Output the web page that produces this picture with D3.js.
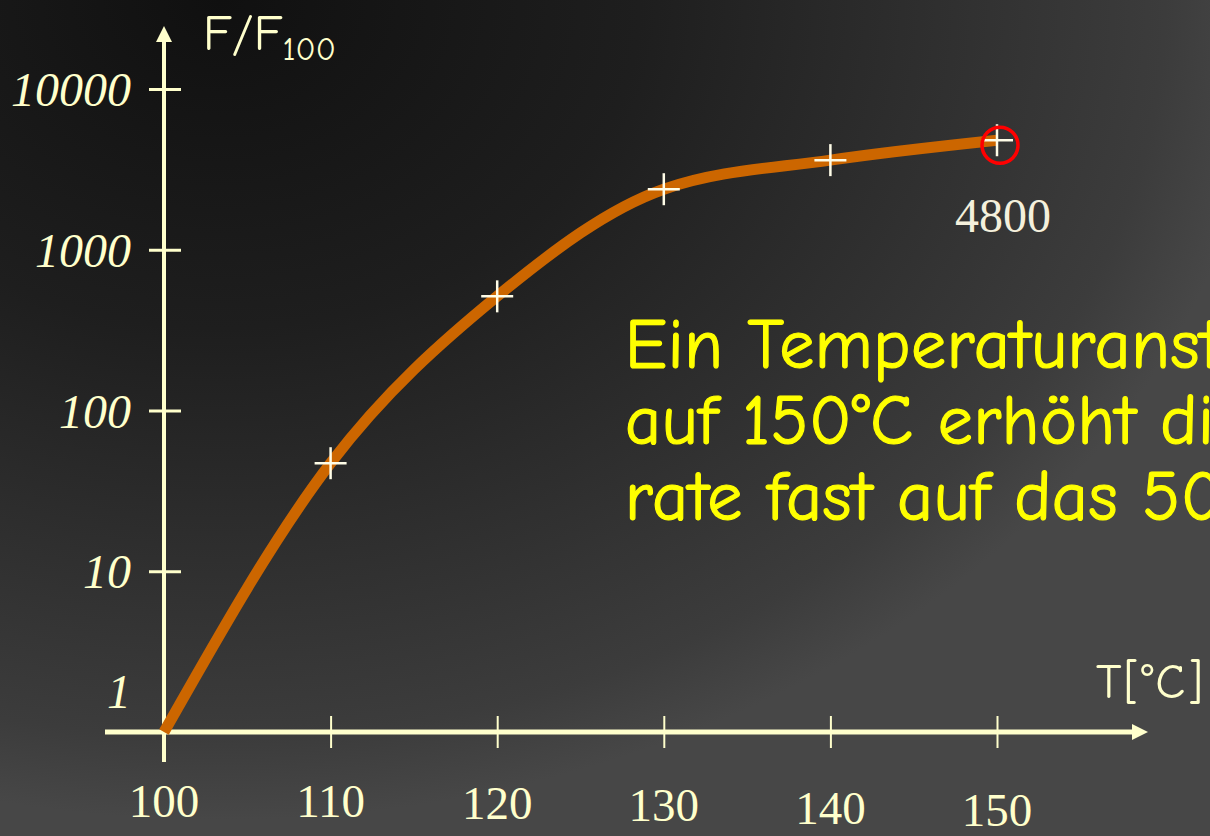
<!DOCTYPE html>
<html>
<head>
<meta charset="utf-8">
<script src="https://cdn.jsdelivr.net/npm/d3@7"></script>
<style>
  html, body { margin: 0; padding: 0; overflow: hidden; background: #2a2a2a; }
</style>
</head>
<body>
<svg id="chart"></svg>
<script>
// data
var temps = [100, 110, 120, 130, 140, 150];
var ratios = [1, 47, 513, 2380, 3610, 4800];
var yTickValues = [1, 10, 100, 1000, 10000];
var yTickLabels = ["1", "10", "100", "1000", "10000"];
var xTickLabels = ["100", "110", "120", "130", "140", "150"];
var markedTemp = [150];
var markedValue = [4800];
var noteLines = [
    "Ein Temperaturanstieg von 100°C",
    "auf 150°C erhöht die Reaktions-",
    "rate fast auf das 5000-fache"
];

var width = 1210, height = 836;
var cream = "#ffffcc";
var handFont = "'Comic Sans MS', 'Comic Neue', Lato, 'DejaVu Sans', sans-serif";
var serifFont = "'Times New Roman', 'Liberation Serif', 'DejaVu Serif', serif";

var svg = d3.select("#chart")
    .attr("width", width)
    .attr("height", height);

// background gradient (dark top-left, lighter towards bottom / right)
var defs = svg.append("defs");
var grad = defs.append("radialGradient")
    .attr("id", "bg")
    .attr("gradientUnits", "userSpaceOnUse")
    .attr("cx", 220).attr("cy", 0).attr("r", 1000)
    .attr("fx", 220).attr("fy", 0)
    .attr("gradientTransform", "translate(220,0) scale(1.05,0.82) translate(-220,0)");
grad.append("stop").attr("offset", 0).attr("stop-color", "#101010");
grad.append("stop").attr("offset", 0.4).attr("stop-color", "#1e1e1e");
grad.append("stop").attr("offset", 0.9).attr("stop-color", "#3c3c3c");
grad.append("stop").attr("offset", 1).attr("stop-color", "#474747");

svg.append("rect")
    .attr("width", width)
    .attr("height", height)
    .attr("fill", "url(#bg)");

var x = d3.scaleLinear().domain([100, 150]).range([164, 997]);
var y = d3.scaleLog().domain([1, 10000]).range([732, 89]);

var x0 = x(100), y0 = y(1);

// axis lines with arrow heads
svg.append("line")
    .attr("x1", x0).attr("x2", x0)
    .attr("y1", y0 + 30).attr("y2", 40)
    .attr("stroke", cream).attr("stroke-width", 4);
svg.append("path")
    .attr("d", "M" + x0 + ",26 L" + (x0 + 8) + ",42 L" + (x0 - 8) + ",42 Z")
    .attr("fill", cream);

svg.append("line")
    .attr("x1", 105).attr("x2", 1134)
    .attr("y1", y0).attr("y2", y0)
    .attr("stroke", cream).attr("stroke-width", 5);
svg.append("path")
    .attr("d", "M1148," + y0 + " L1132," + (y0 - 8) + " L1132," + (y0 + 8) + " Z")
    .attr("fill", cream);

// y ticks (crossing the axis)
var yAxis = d3.axisLeft(y)
    .tickValues(yTickValues.slice(1))
    .tickSizeInner(15)
    .tickSizeOuter(0)
    .tickFormat("");
var gy = svg.append("g")
    .attr("transform", "translate(" + x0 + ",0)")
    .call(yAxis);
gy.select(".domain").remove();
gy.selectAll(".tick line")
    .attr("x1", 17)
    .attr("stroke", cream)
    .attr("stroke-width", 3);

svg.append("g").selectAll("text")
    .data(yTickValues)
    .join("text")
    .attr("x", x0 - 33)
    .attr("y", function (d) { return d === 1 ? y(d) - 24 : y(d) + 17; })
    .attr("text-anchor", "end")
    .attr("font-family", serifFont)
    .attr("font-style", "italic")
    .attr("font-size", 48)
    .attr("fill", cream)
    .text(function (d, i) { return yTickLabels[i]; });

// x ticks
var xAxis = d3.axisBottom(x)
    .tickValues(temps.slice(1))
    .tickSizeInner(16)
    .tickSizeOuter(0)
    .tickFormat("");
var gx = svg.append("g")
    .attr("transform", "translate(0," + y0 + ")")
    .call(xAxis);
gx.select(".domain").remove();
gx.selectAll(".tick line")
    .attr("y1", -16)
    .attr("stroke", cream)
    .attr("stroke-width", 2);

svg.append("g").selectAll("text")
    .data(temps)
    .join("text")
    .attr("x", function (d) { return x(d); })
    .attr("y", function (d) { return 817 + Math.max(0, (d - 110) / 10) * 2.2; })
    .attr("text-anchor", "middle")
    .attr("font-family", serifFont)
    .attr("font-size", 47)
    .attr("fill", cream)
    .text(function (d, i) { return xTickLabels[i]; });

// axis titles
var yTitle = svg.append("text")
    .attr("x", 203).attr("y", 50)
    .attr("font-family", handFont)
    .attr("font-size", 50)
    .attr("fill", cream);
yTitle.append("tspan").text("F/F");
yTitle.append("tspan").attr("dy", 10).attr("font-size", 33).text("100");

svg.append("text")
    .attr("x", 1096).attr("y", 698)
    .attr("font-family", handFont)
    .attr("font-size", 49)
    .attr("letter-spacing", 2)
    .attr("fill", cream)
    .text("T[°C]");

// curve
var pts = temps.map(function (t, i) { return [t, ratios[i]]; });
var line = d3.line()
    .x(function (d) { return x(d[0]); })
    .y(function (d) { return y(d[1]); })
    .curve(d3.curveMonotoneX);

svg.append("path")
    .datum(pts)
    .attr("d", line)
    .attr("fill", "none")
    .attr("stroke", "#cc6600")
    .attr("stroke-width", 11)
    .attr("stroke-linecap", "butt");

// cross markers
var marks = svg.append("g").selectAll("g")
    .data(pts.slice(1))
    .join("g")
    .attr("transform", function (d) { return "translate(" + x(d[0]) + "," + y(d[1]) + ")"; });
marks.append("line")
    .attr("x1", -16).attr("x2", 16)
    .attr("stroke", "#fffde8").attr("stroke-width", 2.5);
marks.append("line")
    .attr("y1", -16).attr("y2", 16)
    .attr("stroke", "#fffde8").attr("stroke-width", 2.5);

// highlighted end value
svg.append("circle")
    .attr("cx", x(markedTemp[0]) + 3)
    .attr("cy", y(markedValue[0]) + 5)
    .attr("r", 18)
    .attr("fill", "none")
    .attr("stroke", "#ff0000")
    .attr("stroke-width", 3.5);

svg.append("text")
    .attr("x", x(markedTemp[0]) + 6)
    .attr("y", y(markedValue[0]) + 92)
    .attr("text-anchor", "middle")
    .attr("font-family", serifFont)
    .attr("font-size", 48)
    .attr("fill", "#f4f0dc")
    .text(markedValue[0]);

// yellow note (runs off the slide on the right, as in the original)
svg.append("g").selectAll("text")
    .data(noteLines)
    .join("text")
    .attr("x", 625)
    .attr("y", function (d, i) { return 368 + i * 76; })
    .attr("font-family", handFont)
    .attr("font-size", 70)
    .attr("letter-spacing", 0.6)
    .attr("fill", "#ffff00")
    .attr("stroke", "#ffff00")
    .attr("stroke-width", 1.2)
    .text(function (d) { return d; });
</script>
</body>
</html>
